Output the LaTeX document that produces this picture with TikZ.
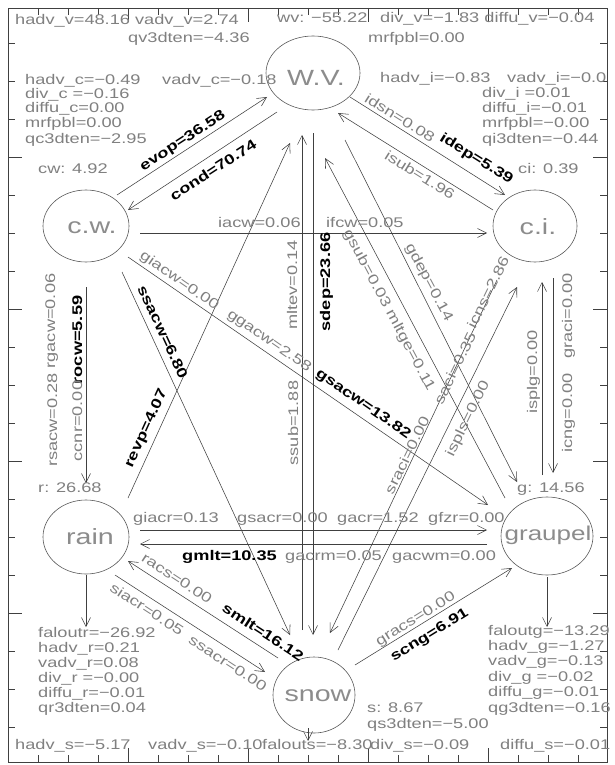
\documentclass[tikz,border=0pt]{standalone}
\usepackage{fontspec}
\setmainfont{Liberation Sans}[FakeStretch=1.3]
\usetikzlibrary{arrows.meta,calc,shapes.geometric}
\begin{document}
\begin{tikzpicture}[x=1pt,y=-1pt,
  frm/.style={draw=black!75,line width=0.6pt},
  ln/.style={draw=black!75,line width=0.55pt},
  arr/.style={ln,-{Straight Barb[length=9pt,width=9pt]}},
  spc/.style={ellipse,draw=black!65,line width=0.6pt,inner sep=0pt},
  lbl/.style={inner sep=0pt,text height=10pt,text depth=0pt,font=\fontsize{14}{16}\selectfont,text=black!50},
  blbl/.style={lbl,font=\fontsize{14}{16}\selectfont\bfseries,text=black},
  big/.style={inner sep=0pt,font=\fontsize{22}{24}\selectfont,text=black!45}]
\fill[white] (0,0) rectangle (614,765);
\useasboundingbox (0,0) rectangle (614,765);
% frame and ticks
\draw[frm] (8,8) rectangle (607,762);
\foreach \x [count=\i from 0] in {38,68,...,578} {
  \pgfmathparse{mod(\i,4)==3 ? 14 : 7}\let\len\pgfmathresult
  \draw[frm] (\x,8) -- ++(0,\len);
  \draw[frm] (\x,762) -- ++(0,-\len);
}
\foreach \y [count=\i from 0] in {43,81,...,727} {
  \pgfmathparse{mod(\i,4)==3 ? 14 : 7}\let\len\pgfmathresult
  \draw[frm] (8,\y) -- ++(\len,0);
  \draw[frm] (607,\y) -- ++(-\len,0);
}
% species
\node[spc,minimum width=94pt,minimum height=74pt] (wv) at (313,73) {};
\node[spc,minimum width=86pt,minimum height=72pt] (cw) at (86,226) {};
\node[spc,minimum width=84pt,minimum height=72pt] (ci) at (535,226) {};
\node[spc,minimum width=86pt,minimum height=74pt] (rain) at (86,537) {};
\node[spc,minimum width=82pt,minimum height=76pt] (snow) at (314,695) {};
\node[spc,minimum width=92pt,minimum height=78pt] (grp) at (547,536) {};
\node[big] (wvl) at (316,78) {W.V.};
\node[big] (cwl) at (92,228) {c.w.};
\node[big] (cil) at (538,227) {c.i.};
\node[big] (rainl) at (90,537) {rain};
\node[big] (snowl) at (318,696) {snow};
\node[big,font=\fontsize{20}{22}\selectfont] (grpl) at (548,535) {graupel};
% header and budget texts
\node[lbl,anchor=west] (t1) at (15,20) {hadv\_v=48.16 vadv\_v=2.74};
\node[lbl,anchor=west] (t2) at (128,38) {qv3dten=−4.36};
\node[lbl,anchor=west] (t3) at (277,18) {wv: −55.22};
\node[lbl,anchor=west] (t4) at (380,18) {div\_v=−1.83 diffu\_v=−0.04};
\node[lbl,anchor=west] (t5) at (368,38) {mrfpbl=0.00};
\node[lbl,anchor=west] (c1) at (25,80) {hadv\_c=−0.49};
\node[lbl,anchor=west] (c2) at (162,80) {vadv\_c=−0.18};
\node[lbl,anchor=west] (c3) at (25,94) {div\_c =−0.16};
\node[lbl,anchor=west] (c4) at (25,108) {diffu\_c=0.00};
\node[lbl,anchor=west] (c5) at (25,123) {mrfpbl=0.00};
\node[lbl,anchor=west] (c6) at (25,138) {qc3dten=−2.95};
\node[lbl,anchor=west] (i1) at (380,78) {hadv\_i=−0.83};
\node[lbl,anchor=west] (i2) at (507,78) {vadv\_i=−0.0};
\node[lbl,anchor=west] (i3) at (482,93) {div\_i =0.01};
\node[lbl,anchor=west] (i4) at (482,108) {diffu\_i=−0.01};
\node[lbl,anchor=west] (i5) at (482,123) {mrfpbl=−0.00};
\node[lbl,anchor=west] (i6) at (482,138) {qi3dten=−0.44};
\node[lbl,anchor=west] (cwv) at (38,168) {cw: 4.92};
\node[lbl,anchor=west] (civ) at (518,168) {ci: 0.39};
\node[lbl,anchor=west] (rv) at (38,487) {r: 26.68};
\node[lbl,anchor=west] (gv) at (517,487) {g: 14.56};
\node[lbl,anchor=west] (sv) at (367,707) {s: 8.67};
\node[lbl,anchor=west] (sq) at (367,723) {qs3dten=−5.00};
\node[lbl,anchor=west] (r1) at (38,632) {faloutr=−26.92};
\node[lbl,anchor=west] (r2) at (38,647) {hadv\_r=0.21};
\node[lbl,anchor=west] (r3) at (38,662) {vadv\_r=0.08};
\node[lbl,anchor=west] (r4) at (38,677) {div\_r =−0.00};
\node[lbl,anchor=west] (r5) at (38,692) {diffu\_r=−0.01};
\node[lbl,anchor=west] (r6) at (38,707) {qr3dten=0.04};
\node[lbl,anchor=west] (g1) at (488,630) {faloutg=−13.29};
\node[lbl,anchor=west] (g2) at (488,645) {hadv\_g=−1.27};
\node[lbl,anchor=west] (g3) at (488,660) {vadv\_g=−0.13};
\node[lbl,anchor=west] (g4) at (488,676) {div\_g =−0.02};
\node[lbl,anchor=west] (g5) at (488,691) {diffu\_g=−0.01};
\node[lbl,anchor=west] (g6) at (488,707) {qg3dten=−0.16};
\node[lbl,anchor=west] (s1) at (15,744) {hadv\_s=−5.17};
\node[lbl,anchor=west] (s2) at (148,744) {vadv\_s=−0.10};
\node[lbl,anchor=west] (s3) at (262,744) {falouts=−8.30};
\node[lbl,anchor=west] (s4) at (370,744) {div\_s=−0.09};
\node[lbl,anchor=west] (s5) at (500,744) {diffu\_s=−0.01};
% connectors
\draw[arr] ($(cw)+(31,-31)$) -- ($(wv)+(-46,24)$);
\draw[arr] ($(wv)+(-36,39)$) -- ($(cw)+(42,-16)$);
\draw[arr] ($(wv)+(37,24)$) -- ($(ci)+(-30,-31)$);
\draw[arr] ($(ci)+(-42,-16)$) -- ($(wv)+(25,40)$);
\draw[arr] ($(cw)+(54,7)$) -- ($(ci)+(-48,7)$);
\draw[arr] ($(cw)+(42,31)$) -- ($(grp)+(-59,-31)$);
\draw[arr] ($(cw)+(36,46)$) -- ($(snow)+(-24,-60)$);
\draw[arr] ($(rain)+(42,-39)$) -- ($(wv)+(-23,70)$);
\draw[arr] ($(snow)+(-12,-65)$) -- ($(wv)+(-11,62)$);
\draw[arr] ($(wv)+(0,60)$) -- ($(snow)+(-1,-60)$);
\draw[arr] ($(grp)+(-42,-38)$) -- ($(wv)+(12,85)$);
\draw[arr] ($(wv)+(32,67)$) -- ($(grp)+(-30,-54)$);
\draw[arr] ($(ci)+(-38,54)$) -- ($(snow)+(16,-62)$);
\draw[arr] ($(snow)+(24,-45)$) -- ($(ci)+(-18,61)$);
\draw[arr] ($(grp)+(-5,-61)$) -- ($(ci)+(7,56)$);
\draw[arr] ($(ci)+(18,52)$) -- ($(grp)+(6,-63)$);
\draw[arr] ($(cw)+(0,61)$) -- ($(rain)+(0,-54)$);
\draw[arr] ($(rain)+(54,-7)$) -- ($(grp)+(-60,-6)$);
\draw[arr] ($(grp)+(-60,8)$) -- ($(rain)+(54,7)$);
\draw[arr] ($(snow)+(-36,-37)$) -- ($(rain)+(42,24)$);
\draw[arr] ($(rain)+(29,38)$) -- ($(snow)+(-49,-23)$);
\draw[arr] ($(snow)+(41,-30)$) -- ($(grp)+(-35,32)$);
\draw[arr] ($(rain)+(0,38)$) -- ($(rain)+(0,90)$);
\draw[arr] ($(grp)+(0,41)$) -- ($(grp)+(0,91)$);
\draw[arr] ($(snow)+(-6,33)$) -- ($(snow)+(-6,46)$);
% process labels
\node[blbl,rotate=33] (evop) at (182,140) {evop=36.58};
\node[blbl,rotate=33] (cond) at (213,170) {cond=70.74};
\node[lbl,rotate=-32] (idsn) at (400,118) {idsn=0.08};
\node[blbl,rotate=-32] (idep) at (477,158) {idep=5.39};
\node[lbl,rotate=-32] (isub) at (420,175) {isub=1.96};
\node[lbl,anchor=west] (iacw) at (218,222) {iacw=0.06};
\node[lbl,anchor=west] (ifcw) at (326,222) {ifcw=0.05};
\node[lbl,rotate=-34.6] (giacw) at (180,280) {giacw=0.00};
\node[lbl,rotate=-34.6] (ggacw) at (270,340) {ggacw=2.58};
\node[blbl,rotate=-34.6] (gsacw) at (364,403) {gsacw=13.82};
\node[blbl,rotate=-65] (ssacw) at (163,332) {ssacw=6.80};
\node[blbl,rotate=65.5] (revp) at (145,428) {revp=4.07};
\node[lbl,rotate=90] (mltev) at (292,285) {mltev=0.14};
\node[lbl,rotate=90] (ssub) at (293,423) {ssub=1.88};
\node[blbl,rotate=90] (sdep) at (325,282) {sdep=23.66};
\node[lbl,rotate=-62] (gsub) at (390,310) {gsub=0.03 mltge=0.11};
\node[lbl,rotate=-62] (gdep) at (430,282) {gdep=0.14};
\node[lbl,rotate=64] (icns) at (488,292) {icns=2.86};
\node[lbl,rotate=64] (saci) at (455,368) {saci=0.35};
\node[lbl,rotate=64] (sraci) at (407,455) {sraci=0.00};
\node[lbl,rotate=64] (ispls) at (467,418) {ispls=0.00};
\node[lbl,rotate=90] (isplg) at (532,372) {isplg=0.00};
\node[lbl,rotate=90] (graci) at (567,316) {graci=0.00};
\node[lbl,rotate=90] (icng) at (567,413) {icng=0.00};
\node[lbl,rotate=90] (rgacw) at (50,321) {rgacw=0.06};
\node[lbl,rotate=90] (rsacw) at (52,420) {rsacw=0.28};
\node[blbl,rotate=90] (rocw) at (77,340) {rocw=5.59};
\node[lbl,rotate=90] (ccnr) at (77,421) {ccnr=0.00};
\node[lbl,anchor=west] (giacr) at (133,517) {giacr=0.13};
\node[lbl,anchor=west] (gsacr) at (237,517) {gsacr=0.00};
\node[lbl,anchor=west] (gacr) at (337,517) {gacr=1.52};
\node[lbl,anchor=west] (gfzr) at (428,517) {gfzr=0.00};
\node[blbl,anchor=west] (gmlt) at (182,555) {gmlt=10.35};
\node[lbl,anchor=west] (gacrm) at (285,555) {gacrm=0.05};
\node[lbl,anchor=west] (gacwm) at (392,555) {gacwm=0.00};
\node[lbl,rotate=-33] (racs) at (177,578) {racs=0.00};
\node[blbl,rotate=-33] (smlt) at (263,632) {smlt=16.12};
\node[lbl,rotate=-33] (siacr) at (147,609) {siacr=0.05};
\node[lbl,rotate=-33] (ssacr) at (228,663) {ssacr=0.00};
\node[lbl,rotate=31.7] (gracs) at (415,618) {gracs=0.00};
\node[blbl,rotate=31.7] (scng) at (429,634) {scng=6.91};
\end{tikzpicture}
\end{document}
